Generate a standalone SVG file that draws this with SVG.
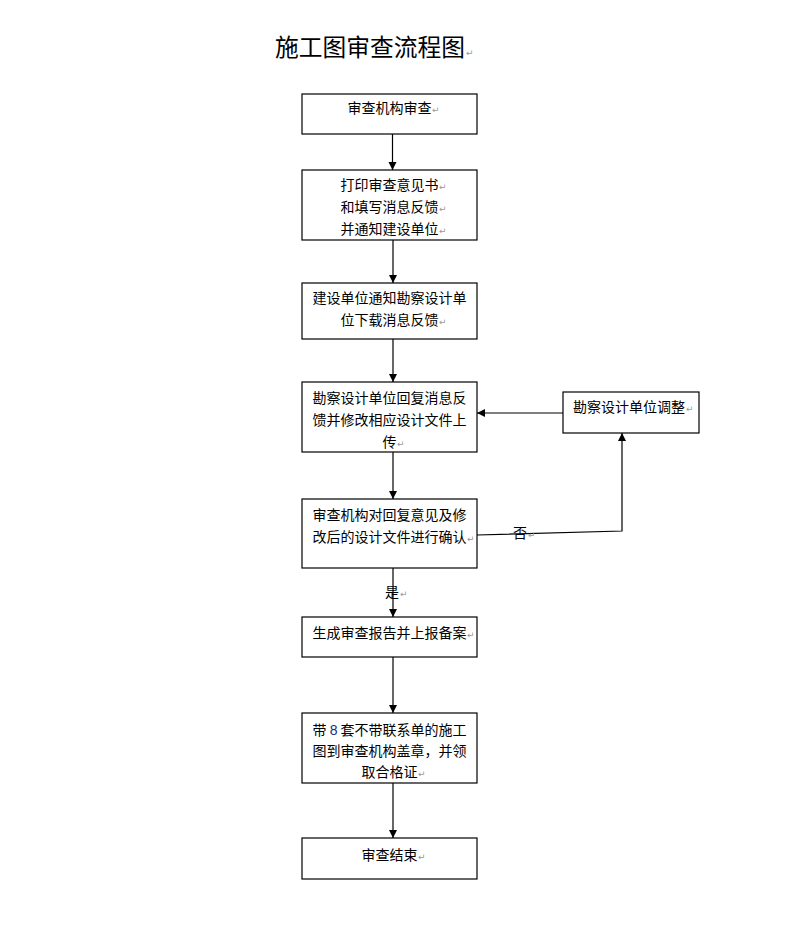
<svg xmlns="http://www.w3.org/2000/svg" width="800" height="930" viewBox="0 0 800 930">
<defs>
<style>
.box{fill:#fff;stroke:#000;stroke-width:1.2}
.t{font-family:"Noto Sans CJK SC","Liberation Sans",sans-serif;font-size:14px;fill:#000}
.title{font-family:"Noto Sans CJK SC","Liberation Sans",sans-serif;font-size:23.75px;fill:#000}
.pm{font-family:"DejaVu Sans",sans-serif;font-size:9px;fill:#999}
.c{fill:none;stroke:#000;stroke-width:1.2}
</style>
<marker id="ah" viewBox="0 0 10 10" refX="10" refY="5" markerWidth="8" markerHeight="9" markerUnits="userSpaceOnUse" orient="auto">
<path d="M0,0 L10,5 L0,10 z" fill="#000"/>
</marker>
</defs>
<rect width="800" height="930" fill="#fff"/>
<g id="title">
<text class="title" x="275" y="56">施工图审查流程图</text><text class="pm" x="466" y="56">↵</text>
</g>
<g id="connectors">
<line class="c" x1="392.5" y1="134" x2="392.5" y2="170" marker-end="url(#ah)"/>
<line class="c" x1="393" y1="240" x2="393" y2="283" marker-end="url(#ah)"/>
<line class="c" x1="393" y1="339" x2="393" y2="382" marker-end="url(#ah)"/>
<line class="c" x1="393" y1="452" x2="393" y2="499" marker-end="url(#ah)"/>
<line class="c" x1="393" y1="568" x2="393" y2="617" marker-end="url(#ah)"/>
<line class="c" x1="393" y1="657" x2="393" y2="713" marker-end="url(#ah)"/>
<line class="c" x1="393" y1="783" x2="393" y2="838" marker-end="url(#ah)"/>
<line class="c" x1="563" y1="413" x2="477" y2="413" marker-end="url(#ah)"/>
<polyline class="c" points="477,535 622,531 622,433" marker-end="url(#ah)"/>
<text class="t" x="513" y="538">否</text><text class="pm" x="528" y="538">↵</text>
<text class="t" x="385" y="597">是</text><text class="pm" x="400" y="597">↵</text>
</g>
<g id="n1">
<rect class="box" x="302" y="94" width="175" height="40"/>
<text class="t" x="347.5" y="113">审查机构审查</text><text class="pm" x="432" y="113">↵</text>
</g>
<g id="n2">
<rect class="box" x="302" y="170" width="175" height="70"/>
<text class="t" x="340.5" y="190">打印审查意见书</text><text class="pm" x="439" y="190">↵</text>
<text class="t" x="340.5" y="212">和填写消息反馈</text><text class="pm" x="439" y="212">↵</text>
<text class="t" x="340.5" y="234">并通知建设单位</text><text class="pm" x="439" y="234">↵</text>
</g>
<g id="n3">
<rect class="box" x="302" y="283" width="175" height="56"/>
<text class="t" x="312.5" y="303">建设单位通知勘察设计单</text>
<text class="t" x="340.5" y="325">位下载消息反馈</text><text class="pm" x="439" y="325">↵</text>
</g>
<g id="n4">
<rect class="box" x="302" y="382" width="175" height="70"/>
<text class="t" x="312.5" y="403">勘察设计单位回复消息反</text>
<text class="t" x="312.5" y="425">馈并修改相应设计文件上</text>
<text class="t" x="382.5" y="447">传</text><text class="pm" x="397" y="447">↵</text>
</g>
<g id="n5">
<rect class="box" x="302" y="499" width="175" height="69"/>
<text class="t" x="312.5" y="520">审查机构对回复意见及修</text>
<text class="t" x="312.5" y="542">改后的设计文件进行确认</text><text class="pm" x="467" y="542">↵</text>
</g>
<g id="n6">
<rect class="box" x="302" y="617" width="175" height="40"/>
<text class="t" x="312.5" y="638">生成审查报告并上报备案</text><text class="pm" x="467" y="638">↵</text>
</g>
<g id="n7">
<rect class="box" x="302" y="713" width="175" height="70"/>
<text class="t" x="312.5" y="735">带 <tspan font-family="Liberation Sans" fill="#1a2a8a">8</tspan> 套不带联系单的施工</text>
<text class="t" x="312.5" y="756">图到审查机构盖章，并领</text>
<text class="t" x="361.5" y="777">取合格证</text><text class="pm" x="418" y="777">↵</text>
</g>
<g id="n8">
<rect class="box" x="302" y="838" width="175" height="41"/>
<text class="t" x="361.5" y="860">审查结束</text><text class="pm" x="418" y="860">↵</text>
</g>
<g id="side">
<rect class="box" x="563" y="392" width="136" height="41"/>
<text class="t" x="573" y="412">勘察设计单位调整</text><text class="pm" x="686" y="412">↵</text>
</g>
</svg>
